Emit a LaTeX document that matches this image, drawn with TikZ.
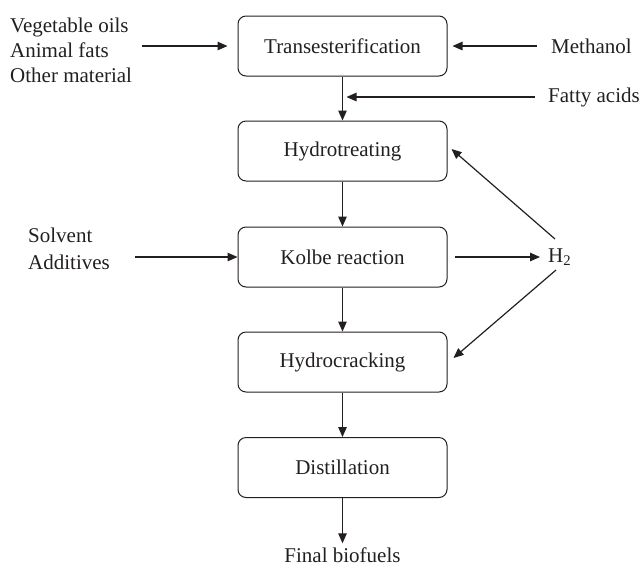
\documentclass[tikz,border=0pt]{standalone}
\usepackage{fontspec}
\setmainfont{Liberation Serif}
\usetikzlibrary{arrows.meta}
\definecolor{ink}{HTML}{231F20}
\begin{document}
\begin{tikzpicture}[x=1pt,y=-1pt,
  font=\fontsize{21}{25}\selectfont,
  color=ink,
  proc/.style={draw=ink, rounded corners=8pt, minimum width=209pt, minimum height=60pt, line width=1pt, inner sep=0pt},
  lbl/.style={inner sep=0pt, align=left},
  arr/.style={line width=1.2pt, -{Triangle[length=10pt,width=8.5pt]}}]
\useasboundingbox (0,0) rectangle (643,566);
\node[proc] (t)  at (342.5,46)    {Transesterification};
\node[proc] (ht) at (342.5,151)   {Hydrotreating};
\node[proc] (k)  at (342.5,257)   {Kolbe reaction};
\node[proc] (hc) at (342.5,362)   {Hydrocracking};
\node[proc] (d)  at (342.5,467.5) {Distillation};

\node[lbl, anchor=west] (feed) at (10,50) {Vegetable oils\\Animal fats\\Other material};
\node[lbl, anchor=west] (meth) at (551,46) {Methanol};
\node[lbl, anchor=west] (fa) at (548,97) {Fatty acids};
\node[lbl, anchor=west, font=\fontsize{21}{27}\selectfont] (sol) at (28,249) {Solvent\\Additives};
\node[lbl, anchor=west] (h) at (548,257) {H\textsubscript{2}};
\node[lbl] (fin) at (342.5,555) {Final biofuels};

\coordinate (hu) at (555,239);
\coordinate (hd) at (556,270);

\draw[arr, shorten <=10pt, shorten >=10pt] (feed.east |- t.west) -- (t.west);
\draw[arr, shorten <=14pt, shorten >=5pt] (meth.west) -- (t.east);
\draw[arr, shorten <=13pt, shorten >=4pt] (fa.west) -- (fa.west -| t.south);
\draw[arr, shorten <=25pt] (sol.east |- k.west) -- (k.west);
\draw[arr, shorten <=7pt, shorten >=8pt] (k.east) -- (h.west);
\draw[arr] (hu) -- ([xshift=4pt,yshift=2pt]ht.east);
\draw[arr] (hd) -- ([xshift=6pt,yshift=4pt]hc.east);

\draw[arr] (t) -- (ht);
\draw[arr] (ht) -- (k);
\draw[arr] (k) -- (hc);
\draw[arr] (hc) -- (d);
\draw[arr, shorten >=4pt] (d) -- (fin);
\end{tikzpicture}
\end{document}
